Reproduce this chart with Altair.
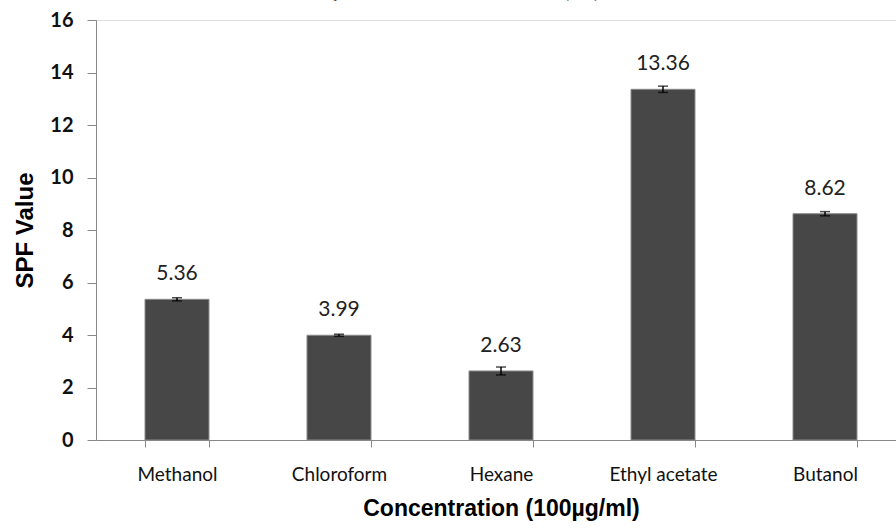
import altair as alt
import pandas as pd

solvents = ["Methanol", "Chloroform", "Hexane", "Ethyl acetate", "Butanol"]
spf = [5.36, 3.99, 2.63, 13.36, 8.62]
sd = [0.06, 0.04, 0.15, 0.12, 0.08]
labels = ["5.36", "3.99", "2.63", "13.36", "8.62"]

df = pd.DataFrame({
    "solvent": solvents,
    "spf": spf,
    "lo": [v - e for v, e in zip(spf, sd)],
    "hi": [v + e for v, e in zip(spf, sd)],
    "label": labels,
})

xscale = alt.Scale(domain=solvents, range=[0, 810], paddingInner=0.605, paddingOuter=0.3025)
yscale = alt.Scale(domain=[0, 16], nice=False)

x = alt.X("solvent:N", scale=xscale, sort=solvents,
          axis=alt.Axis(title="Concentration (100µg/ml)", labelAngle=0, tickBand="extent",
                        labelFont="Lato", labelFontSize=19, labelColor="#111",
                        labelPadding=18, tickSize=7, tickColor="#888", domainColor="#888",
                        titleFont="Liberation Sans", titleFontSize=23, titleFontWeight="bold",
                        titleColor="#000", titlePadding=13))
y = alt.Y("spf:Q", scale=yscale,
          axis=alt.Axis(title="SPF Value", values=list(range(0, 17, 2)), grid=False,
                        labelFont="Lato", labelFontSize=20, labelColor="#111", labelFontWeight="bold",
                        tickSize=9, tickColor="#888", domainColor="#888", labelPadding=14,
                        titleFont="Liberation Sans", titleFontSize=24, titleFontWeight="bold",
                        titleColor="#000", titlePadding=12))

base = alt.Chart(df)

bars = base.mark_bar(color="#474747", stroke="#8a8a8a", strokeWidth=1).encode(x=x, y=y)

err = base.mark_errorbar(ticks=alt.MarkConfig(size=10), color="#000", thickness=1.5).encode(
    x=alt.X("solvent:N", scale=xscale, sort=solvents),
    y=alt.Y("lo:Q", scale=yscale, title="SPF Value"),
    y2="hi:Q",
)

text = base.mark_text(font="Lato", fontSize=21, color="#222", baseline="middle", dy=-25).encode(
    x=alt.X("solvent:N", scale=xscale, sort=solvents),
    y=alt.Y("spf:Q", scale=yscale, title="SPF Value"),
    text="label:N",
)

note = alt.Chart(pd.DataFrame({"t": ["and are expressed as mean ± standard deviation (n=3)"]})).mark_text(
    font="Liberation Serif", fontStyle="italic", fontSize=15, color="#444", baseline="alphabetic", align="center"
).encode(x=alt.value(340), y=alt.value(-22), text="t:N")

chart = (bars + err + text + note).properties(
    width=800, height=420,
    autosize=alt.AutoSizeParams(type="none"),
    padding={"left": 96, "top": 20, "right": 0, "bottom": 92},
).configure_view(stroke=None).configure(background="white")

chart.save("out.html", embed_options={"renderer": "svg", "actions": False})
